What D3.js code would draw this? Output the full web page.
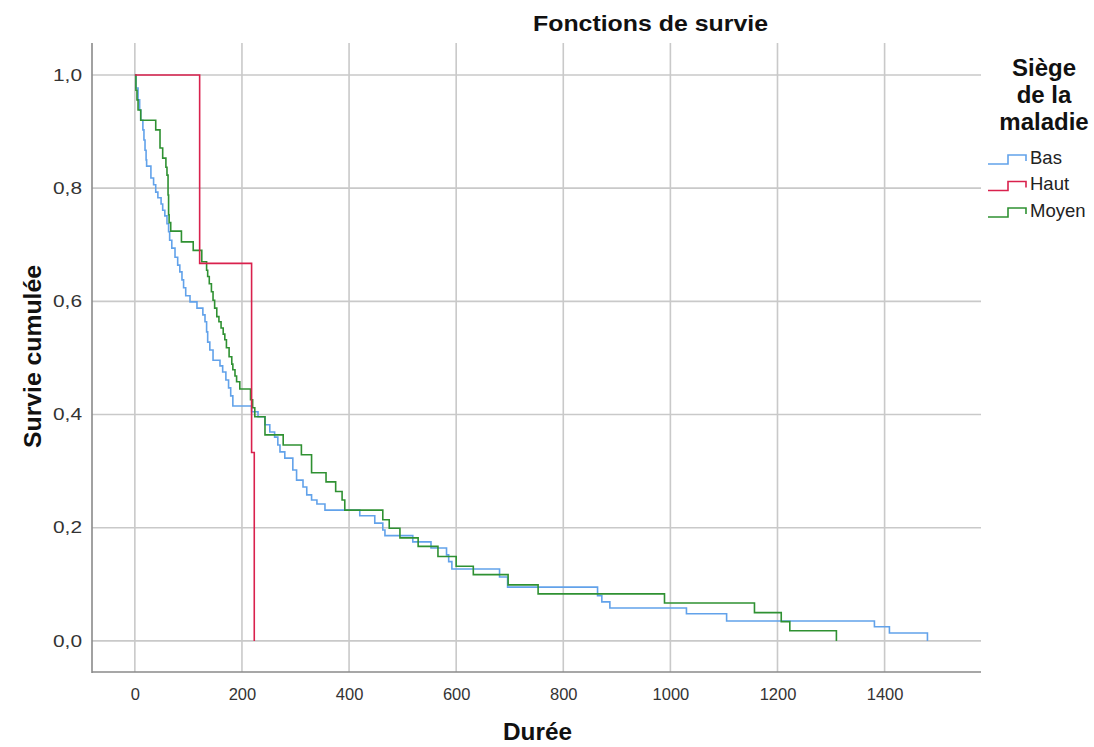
<!DOCTYPE html>
<html>
<head>
<meta charset="utf-8">
<script src="https://cdn.jsdelivr.net/npm/d3@7"></script>
<style>
  html, body { margin: 0; padding: 0; background: #fff; }
  svg { display: block; font-family: "Liberation Sans", Arial, sans-serif; }
</style>
</head>
<body>
<svg id="chart" width="1094" height="747"></svg>
<script>
// ---------- data ----------
const seriesNames = ["Bas", "Haut", "Moyen"];
const seriesColors = ["#62a2ea", "#d9214d", "#2f9132"];

const basTimes = [0, 2, 6, 9, 11, 15, 17, 19, 21, 22, 30, 35, 39, 43, 49, 52, 56, 60, 63, 65, 69, 75, 80, 84, 88, 91, 95, 103, 116, 127, 131, 134, 136, 140, 146, 159, 164, 170, 175, 179, 183, 218, 230, 243, 252, 261, 267, 271, 280, 295, 302, 314, 321, 330, 340, 355, 420, 448, 463, 467, 519, 553, 582, 586, 592, 681, 696, 864, 872, 887, 1030, 1105, 1381, 1409, 1480];
const basSurv  = [1.0, 0.977, 0.956, 0.938, 0.920, 0.903, 0.885, 0.867, 0.850, 0.839, 0.818, 0.806, 0.793, 0.783, 0.772, 0.761, 0.751, 0.737, 0.723, 0.708, 0.694, 0.678, 0.664, 0.652, 0.638, 0.624, 0.610, 0.599, 0.588, 0.576, 0.564, 0.546, 0.528, 0.514, 0.496, 0.486, 0.475, 0.461, 0.447, 0.433, 0.415, 0.405, 0.396, 0.382, 0.369, 0.360, 0.346, 0.334, 0.323, 0.302, 0.284, 0.272, 0.258, 0.249, 0.242, 0.231, 0.221, 0.208, 0.196, 0.186, 0.175, 0.164, 0.152, 0.140, 0.127, 0.113, 0.095, 0.080, 0.069, 0.058, 0.048, 0.035, 0.025, 0.014, 0.0];

const hautTimes = [0, 121, 218, 223];
const hautSurv  = [1.0, 0.667, 0.333, 0.0];

const moyenTimes = [0, 2, 4, 6, 11, 39, 47, 52, 58, 60, 62, 63, 64, 67, 87, 109, 125, 134, 136, 139, 143, 146, 149, 153, 157, 161, 165, 168, 171, 176, 181, 183, 187, 190, 196, 216, 220, 224, 243, 277, 311, 330, 357, 375, 387, 392, 463, 475, 495, 529, 566, 600, 632, 697, 753, 989, 1157, 1207, 1223, 1310];
const moyenSurv  = [1.0, 0.973, 0.956, 0.938, 0.920, 0.903, 0.871, 0.853, 0.837, 0.823, 0.788, 0.753, 0.739, 0.724, 0.705, 0.690, 0.670, 0.655, 0.644, 0.631, 0.617, 0.602, 0.588, 0.573, 0.564, 0.553, 0.542, 0.532, 0.518, 0.502, 0.489, 0.479, 0.468, 0.458, 0.445, 0.426, 0.412, 0.396, 0.364, 0.346, 0.329, 0.297, 0.281, 0.264, 0.249, 0.231, 0.214, 0.199, 0.182, 0.167, 0.149, 0.132, 0.117, 0.099, 0.083, 0.067, 0.050, 0.034, 0.018, 0.0];

const xTicks = [0, 200, 400, 600, 800, 1000, 1200, 1400];
const yTicks = [0.0, 0.2, 0.4, 0.6, 0.8, 1.0];
const yTickLabels = ["0,0", "0,2", "0,4", "0,6", "0,8", "1,0"];

const chartTitle = "Fonctions de survie";
const xTitle = "Durée";
const yTitle = "Survie cumulée";
const legendTitle = ["Siège", "de la", "maladie"];

// ---------- layout ----------
const svg = d3.select("#chart");
const pL = 92, pR = 981, pT = 43, pB = 672;

const x = d3.scaleLinear().domain([-80, 1580]).range([pL, pR]);
const y = d3.scaleLinear().domain([-0.055, 1.0565]).range([pB, pT]);

// grid
const grid = svg.append("g");
grid.selectAll("line.h").data(yTicks).enter().append("line")
  .attr("x1", pL).attr("x2", pR)
  .attr("y1", d => y(d)).attr("y2", d => y(d))
  .attr("stroke", "#c9c9c9").attr("stroke-width", 1.6);
grid.selectAll("line.v").data(xTicks).enter().append("line")
  .attr("y1", pT).attr("y2", pB)
  .attr("x1", d => x(d)).attr("x2", d => x(d))
  .attr("stroke", "#c9c9c9").attr("stroke-width", 1.6);

// axes
const xAxis = d3.axisBottom(x).tickValues(xTicks).tickSize(0).tickPadding(16).tickFormat(d3.format("d"));
const gx = svg.append("g").attr("transform", `translate(0,${pB})`).call(xAxis);
gx.select(".domain").remove();
gx.selectAll("text").attr("font-size", 16.5).attr("fill", "#333")
  .attr("font-family", "'Liberation Sans', Arial, sans-serif");

const yAxis = d3.axisLeft(y).tickValues(yTicks).tickSize(0).tickPadding(10)
  .tickFormat(d => yTickLabels[yTicks.indexOf(d)]);
const gy = svg.append("g").attr("transform", `translate(${pL},0)`).call(yAxis);
gy.select(".domain").remove();
gy.selectAll("text").attr("font-size", 16).attr("fill", "#333")
  .attr("font-family", "'Liberation Sans', Arial, sans-serif")
  .attr("textLength", 29).attr("lengthAdjust", "spacingAndGlyphs");

svg.append("line").attr("x1", pL).attr("x2", pL).attr("y1", pT).attr("y2", pB + 1)
  .attr("stroke", "#8a8a8a").attr("stroke-width", 1.6);
svg.append("line").attr("x1", pL).attr("x2", pR).attr("y1", pB).attr("y2", pB)
  .attr("stroke", "#8a8a8a").attr("stroke-width", 1.6);

// curves
const series = [
  { name: seriesNames[0], color: seriesColors[0], t: basTimes, s: basSurv },
  { name: seriesNames[1], color: seriesColors[1], t: hautTimes, s: hautSurv },
  { name: seriesNames[2], color: seriesColors[2], t: moyenTimes, s: moyenSurv }
];
const line = d3.line().x(d => x(d[0])).y(d => y(d[1])).curve(d3.curveStepAfter);
const drawOrder = [0, 2, 1];
drawOrder.forEach(i => {
  const sr = series[i];
  const pts = sr.t.map((t, k) => [t, sr.s[k]]);
  svg.append("path").datum(pts)
    .attr("d", line).attr("fill", "none")
    .attr("stroke", sr.color).attr("stroke-width", 1.6);
});

// titles
svg.append("text").attr("x", 650.5).attr("y", 31).attr("text-anchor", "middle")
  .attr("font-size", 22.5).attr("font-weight", "bold").attr("fill", "#111")
  .attr("textLength", 235).attr("lengthAdjust", "spacingAndGlyphs")
  .text(chartTitle);
svg.append("text").attr("x", 537.5).attr("y", 740).attr("text-anchor", "middle")
  .attr("font-size", 23).attr("font-weight", "bold").attr("fill", "#111")
  .attr("textLength", 69).attr("lengthAdjust", "spacingAndGlyphs")
  .text(xTitle);
svg.append("text").attr("transform", "translate(40.5,356.5) rotate(-90)").attr("text-anchor", "middle")
  .attr("font-size", 23.5).attr("font-weight", "bold").attr("fill", "#111")
  .attr("textLength", 183).attr("lengthAdjust", "spacingAndGlyphs")
  .text(yTitle);

// legend
const lg = svg.append("g");
legendTitle.forEach((t, i) => {
  lg.append("text").attr("x", 1044).attr("y", 76 + i * 27).attr("text-anchor", "middle")
    .attr("font-size", 24).attr("font-weight", "bold").attr("fill", "#111").text(t);
});
series.forEach((sr, i) => {
  const cy = 157 + i * 26.5;
  lg.append("path")
    .attr("d", `M988,${cy + 7} H1008 V${cy - 2} H1026 V${cy + 4}`)
    .attr("fill", "none").attr("stroke", sr.color).attr("stroke-width", 1.6);
  lg.append("text").attr("x", 1030).attr("y", cy + 6.5)
    .attr("font-size", 18.5).attr("fill", "#222").text(sr.name);
});
</script>
</body>
</html>
